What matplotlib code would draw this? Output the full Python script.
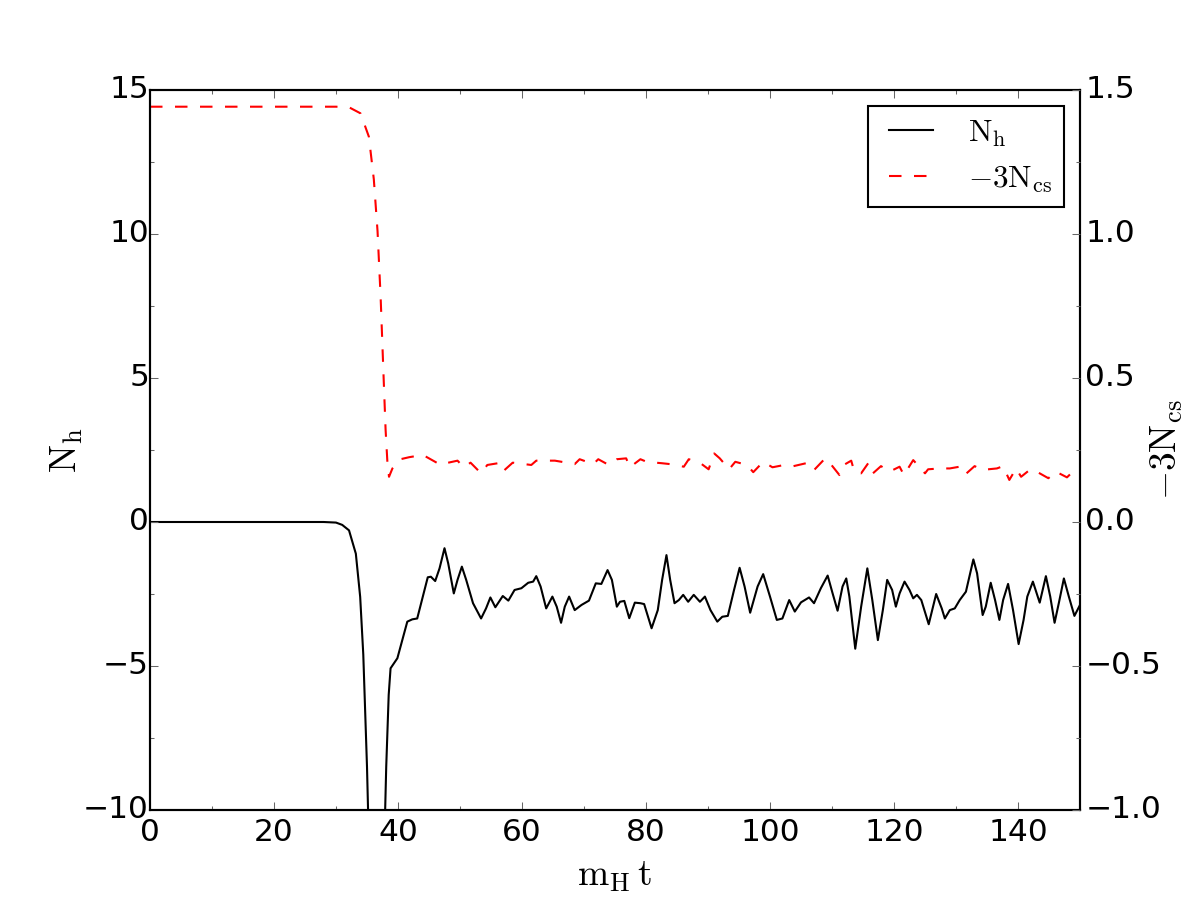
import matplotlib
matplotlib.use('Agg')
import matplotlib.pyplot as plt
from matplotlib.ticker import AutoMinorLocator

plt.style.use('classic')
plt.rcParams['figure.facecolor'] = 'white'
plt.rcParams['savefig.facecolor'] = 'white'
plt.rcParams['mathtext.fontset'] = 'cm'

# N_h (left axis)
t_h = [0, 10, 20, 28, 30, 31, 32.1, 33.2, 33.9, 34.4, 35.0, 35.4, 37.7, 38.1, 38.5,
       38.8, 39.9, 40.7, 41.5, 42.3, 43.1, 44.0, 44.8, 45.3, 46.0, 46.7, 47.5, 48.1,
       49.0, 49.6, 50.3, 51.0, 52.1, 53.4, 54.2, 54.9, 55.7, 56.9, 57.8, 58.8, 59.9,
       61.0, 61.8, 62.3, 63.0, 63.9, 64.9, 65.6, 66.3, 66.9, 67.6, 68.5, 69.6, 70.8,
       71.9, 72.8, 73.8, 74.5, 75.3, 75.8, 76.5, 77.3, 78.2, 79.1, 79.7, 80.9, 81.9,
       82.6, 83.3, 83.9, 84.6, 85.3, 86.0, 86.8, 87.7, 88.7, 89.5, 90.4, 91.5, 92.3,
       93.2, 94.2, 95.1, 95.9, 96.8, 98.0, 98.9, 100.0, 101.1, 102.0, 103.1, 104.0,
       105.0, 106.3, 107.1, 108.2, 109.3, 110.1, 110.9, 111.7, 112.3, 112.8, 113.75,
       114.7, 115.7, 116.5, 117.4, 118.2, 118.9, 119.7, 120.3, 120.9, 121.7, 122.5,
       123.1, 123.7, 124.4, 125.6, 126.8, 127.7, 128.2, 129.0, 129.8, 130.6, 131.6,
       132.1, 132.8, 133.4, 134.3, 134.8, 135.6, 136.3, 137.0, 137.6, 138.4, 139.2,
       140.1, 140.9, 141.5, 142.4, 143.5, 144.5, 145.2, 145.9, 146.6, 147.4, 148.2,
       149.1, 150]
n_h = [0, 0, 0, 0, -0.02, -0.1, -0.29, -1.1, -2.6, -4.6, -8.5, -12, -12, -8.5, -6.0,
       -5.08, -4.73, -4.10, -3.46, -3.38, -3.35, -2.59, -1.92, -1.90, -2.05, -1.61,
       -0.91, -1.44, -2.48, -2.01, -1.55, -2.01, -2.82, -3.35, -3.00, -2.62, -2.96,
       -2.57, -2.73, -2.36, -2.30, -2.11, -2.07, -1.88, -2.24, -3.00, -2.59, -2.94,
       -3.50, -2.94, -2.59, -3.06, -2.88, -2.73, -2.13, -2.15, -1.67, -2.01, -2.94,
       -2.77, -2.74, -3.34, -2.80, -2.82, -2.85, -3.69, -3.06, -2.01, -1.15, -2.01,
       -2.82, -2.71, -2.53, -2.77, -2.53, -2.77, -2.59, -3.06, -3.46, -3.29, -3.26,
       -2.36, -1.59, -2.24, -3.15, -2.24, -1.81, -2.59, -3.40, -3.35, -2.71, -3.11,
       -2.79, -2.62, -2.82, -2.30, -1.86, -2.48, -3.08, -2.24, -1.96, -2.59, -4.40,
       -2.94, -1.61, -2.71, -4.10, -3.06, -2.01, -2.36, -2.94, -2.48, -2.07, -2.36,
       -2.65, -2.53, -2.71, -3.55, -2.50, -3.00, -3.35, -3.06, -3.00, -2.71, -2.42,
       -1.96, -1.30, -1.78, -3.23, -2.94, -2.11, -2.71, -3.40, -2.71, -2.15, -3.06,
       -4.24, -3.40, -2.59, -2.07, -2.80, -1.88, -2.59, -3.50, -2.80, -1.96, -2.59,
       -3.26, -2.88]

# -3 N_cs (right axis)
t_cs = [0, 10, 20, 30, 32.1, 33.95, 35.3, 36.1, 36.7, 37.2, 37.7, 38.0, 38.3, 38.55,
        39.1, 40.4, 41.8, 44.0, 45.0, 46.9, 47.7, 49.6, 50.6, 51.7, 53.4, 54.4, 56.1,
        56.9, 58.5, 61.5, 62.3, 65.3, 66.4, 68.5, 69.3, 71.5, 72.3, 74.0, 75.3, 76.8,
        77.4, 79.1, 80.1, 82.6, 83.9, 86.1, 86.9, 88.8, 90.1, 91.0, 91.9, 93.4, 94.4,
        96.3, 97.3, 98.9, 100.4, 102.3, 103.8, 105.8, 107.0, 108.9, 109.8, 111.2,
        111.9, 113.1, 113.6, 114.7, 115.9, 116.6, 117.9, 119.3, 120.9, 121.6, 123.1,
        125.0, 125.5, 127.4, 129.0, 131.1, 131.7, 133.0, 134.3, 136.6, 137.6, 138.6,
        139.7, 140.5, 142.0, 143.0, 144.9, 146.1, 147.9, 149.0, 150]
n_cs = [1.442, 1.442, 1.442, 1.442, 1.440, 1.419, 1.338, 1.19, 1.01, 0.78, 0.49,
        0.32, 0.204, 0.157, 0.186, 0.218, 0.225, 0.233, 0.221, 0.198, 0.204, 0.213,
        0.190, 0.206, 0.169, 0.198, 0.204, 0.175, 0.206, 0.198, 0.213, 0.213, 0.209,
        0.201, 0.218, 0.201, 0.218, 0.198, 0.218, 0.221, 0.190, 0.218, 0.209, 0.204,
        0.201, 0.192, 0.218, 0.204, 0.183, 0.238, 0.221, 0.183, 0.209, 0.198, 0.173,
        0.209, 0.190, 0.198, 0.194, 0.204, 0.178, 0.221, 0.201, 0.163, 0.198, 0.213,
        0.175, 0.169, 0.206, 0.169, 0.194, 0.175, 0.192, 0.163, 0.215, 0.169, 0.183,
        0.186, 0.186, 0.194, 0.169, 0.194, 0.181, 0.186, 0.194, 0.146, 0.186, 0.157,
        0.183, 0.175, 0.152, 0.175, 0.155, 0.178, 0.170]

fig, ax1 = plt.subplots(figsize=(8, 6), dpi=150)
ax2 = ax1.twinx()

l1, = ax1.plot(t_h, n_h, 'k-', lw=1.0, label=r'$\mathrm{N_h}$')
l2, = ax2.plot(t_cs, n_cs, 'r--', lw=1.0, label=r'$-3\mathrm{N_{cs}}$')

ax1.set_xlim(0, 150)
ax1.set_ylim(-10, 15)
ax2.set_ylim(-1.0, 1.5)
ax1.set_yticks([-10, -5, 0, 5, 10, 15])
ax2.set_yticks([-1.0, -0.5, 0.0, 0.5, 1.0, 1.5])
for ax in (ax1, ax2):
    ax.xaxis.set_minor_locator(AutoMinorLocator(2))
    ax.yaxis.set_minor_locator(AutoMinorLocator(2))
    ax.tick_params(which='both', color='0.4')
    ax.tick_params(labelsize=15)
ax1.tick_params(axis='y', pad=0.5)
ax2.tick_params(axis='y', pad=2.5)

ax1.set_xlabel(r'$\mathrm{m_H\,t}$', fontsize=18)
ax1.set_ylabel(r'$\mathrm{N_h}$', fontsize=18, labelpad=-1)
# the label runs off the right edge in the original too
ax2.set_ylabel(r'$-3\mathrm{N_{cs}}$', fontsize=18, labelpad=-6)

leg = ax2.legend([l1, l2], [l1.get_label(), l2.get_label()], loc='upper right',
                 fontsize=15)

fig.savefig('out.png', dpi=150)
